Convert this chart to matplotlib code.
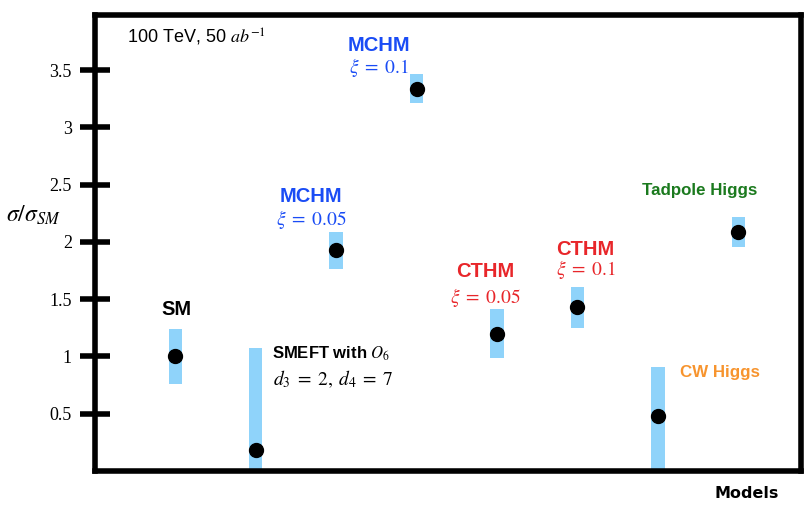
import matplotlib
matplotlib.use('Agg')
from matplotlib import pyplot as plt
import numpy as np

plt.rcParams['mathtext.fontset'] = 'stix'

# models, left to right
models = ['SM', 'SMEFT', 'MCHM 0.05', 'MCHM 0.1', 'CTHM 0.05', 'CTHM 0.1', 'CW Higgs', 'Tadpole Higgs']
ratio = [1.0, 0.18, 1.93, 3.34, 1.20, 1.43, 0.48, 2.09]
band_lo = [0.76, 0.0, 1.76, 3.21, 0.985, 1.25, 0.0, 1.96]
band_hi = [1.24, 1.07, 2.09, 3.47, 1.41, 1.61, 0.91, 2.22]
yticks = [0.5, 1, 1.5, 2, 2.5, 3, 3.5]

blue = '#1a4cf5'
red = '#e8262a'
green = '#1b7a1e'
orange = '#f7942e'
band_c = '#8fd3fa'

fig = plt.figure(figsize=(8.1, 5.08), dpi=100)
ax = fig.add_axes([0.117, 0.073, 0.872, 0.897])

x = np.arange(1, len(models) + 1)
lo = np.array(band_lo); hi = np.array(band_hi)
ax.bar(x, hi - lo, bottom=lo, width=0.165, color=band_c, zorder=1)
ax.plot(x, ratio, 'o', color='k', ms=10, zorder=3)

ax.set_xlim(0, 8.78)
ax.set_ylim(0, 3.98)
ax.set_xticks([])
ax.set_yticks(yticks)
ax.set_yticklabels(['0.5', '1', '1.5', '2', '2.5', '3', '3.5'], family='Liberation Serif', fontsize=13)
ax.tick_params(axis='y', direction='inout', length=21, width=4, pad=6)
for s in ax.spines.values():
    s.set_linewidth(4)

sans = 'Liberation Sans'
big = 14.5
small = 12.2
ax.text(0.045, 0.952, r'100 TeV, 50 $ab^{-1}$', transform=ax.transAxes, fontsize=13,
        family=sans, va='center', ha='left')

# model labels
def name(xx, yy, s, c, size=big, ha='center'):
    ax.text(xx, yy, s, color=c, fontsize=size, weight='bold', family=sans, ha=ha, va='center')

def xi(xx, yy, s, c, ha='center'):
    ax.text(xx, yy, s, color=c, fontsize=14, ha=ha, va='center')

name(3.53, 3.72, 'MCHM', blue)
xi(3.53, 3.52, r'$\xi \;=\; 0.1$', blue)
name(2.69, 2.40, 'MCHM', blue)
xi(2.69, 2.20, r'$\xi \;=\; 0.05$', blue)
name(1.02, 1.41, 'SM', 'k')
name(2.20, 1.02, r'SMEFT with $O_6$', 'k', size=12, ha='left')
xi(2.21, 0.80, r'$d_3 \;=\; 2,\; d_4 \;=\; 7$', 'k', ha='left')
name(4.86, 1.74, 'CTHM', red)
xi(4.86, 1.515, r'$\xi \;=\; 0.05$', red)
name(6.10, 1.93, 'CTHM', red)
xi(6.10, 1.76, r'$\xi \;=\; 0.1$', red)
name(7.52, 2.45, 'Tadpole Higgs', green, size=small)
name(7.27, 0.86, 'CW Higgs', orange, size=small, ha='left')

fig.text(0.041, 0.577, r'$\sigma/\sigma_{SM}$', fontsize=17, ha='center', va='center')
fig.text(0.922, 0.028, 'Models', fontsize=11.5, weight='bold', family='DejaVu Sans', ha='center', va='center')

fig.savefig('out.png', dpi=100)
